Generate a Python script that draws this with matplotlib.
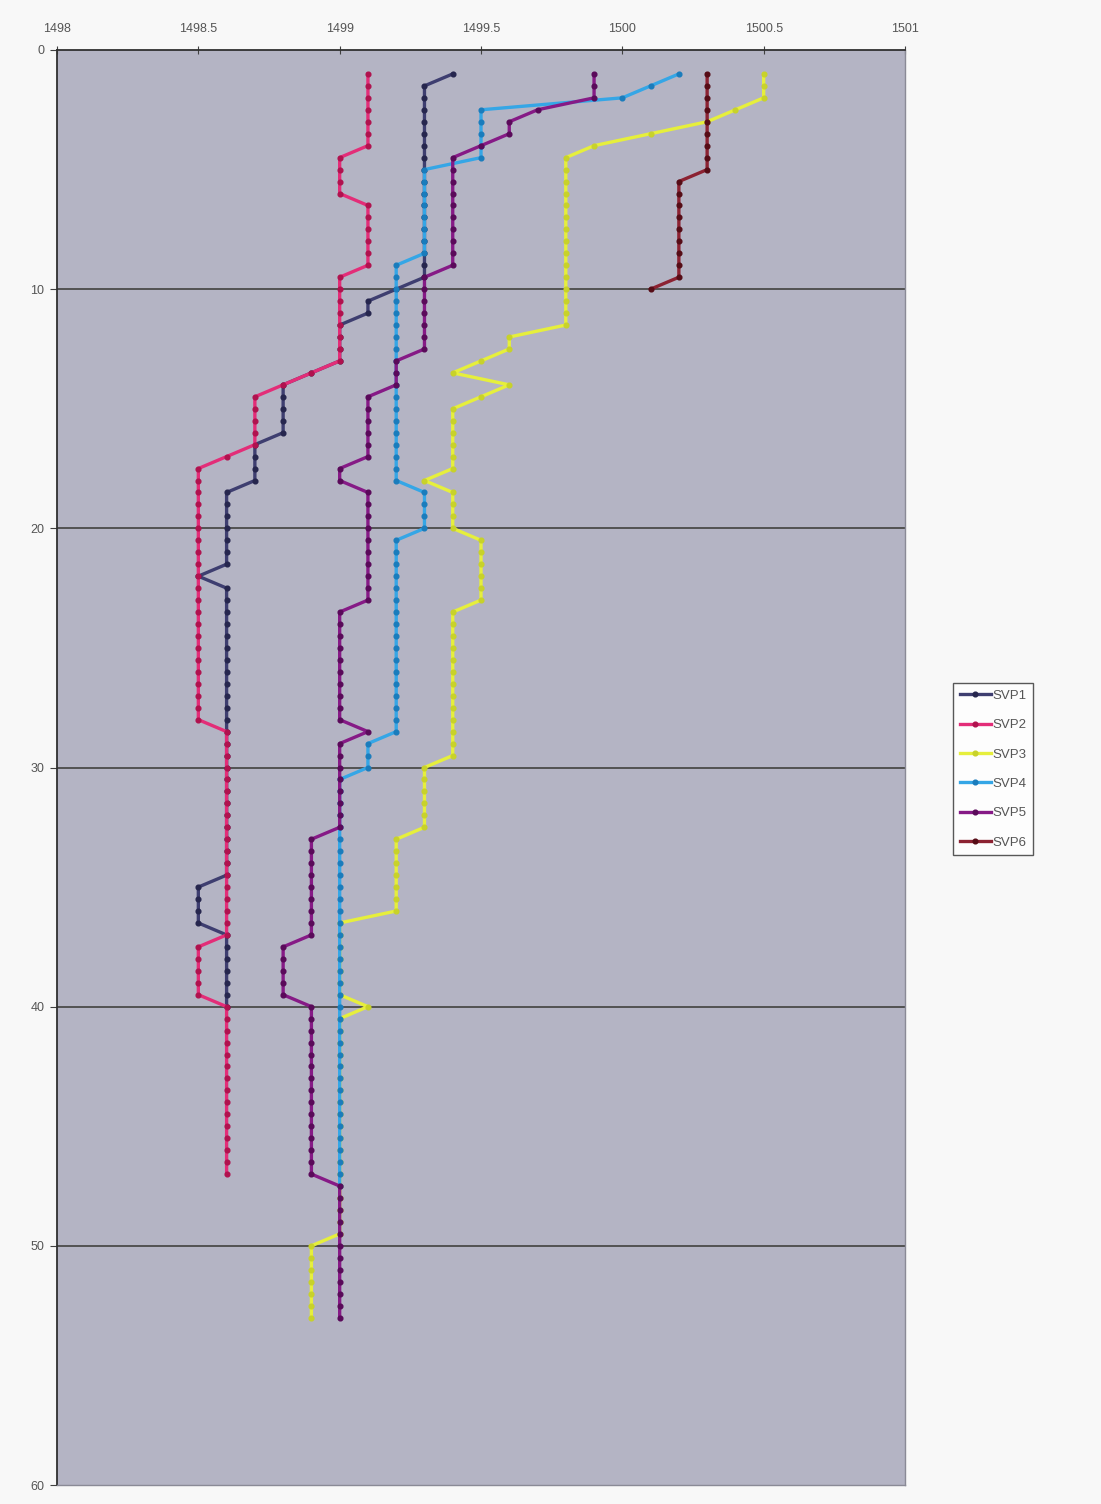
import numpy as np
import matplotlib
matplotlib.use("Agg")
import matplotlib.pyplot as plt

plt.rcParams['font.family'] = ['Liberation Sans Narrow', 'Liberation Sans', 'DejaVu Sans']

# sound velocity profiles, one reading every 0.5 m starting at 1 m depth
# stored as (value, number of consecutive readings at that value)
step = 0.5
start_depth = 1.0

svp1_vals = [1499.4, 1499.3, 1499.2, 1499.1, 1499.0, 1498.9, 1498.8, 1498.7, 1498.6, 1498.5, 1498.6, 1498.5, 1498.6]
svp1_runs = [1, 17, 1, 2, 4, 1, 5, 4, 7, 1, 25, 4, 7]

svp2_vals = [1499.1, 1499.0, 1499.1, 1499.0, 1498.9, 1498.8, 1498.7, 1498.6, 1498.5, 1498.6, 1498.5, 1498.6]
svp2_runs = [7, 4, 6, 8, 1, 1, 5, 1, 22, 18, 5, 15]

svp3_vals = [1500.5, 1500.4, 1500.3, 1500.1, 1499.9, 1499.8, 1499.6, 1499.5, 1499.4, 1499.6, 1499.5,
             1499.4, 1499.3, 1499.4, 1499.5, 1499.4, 1499.3, 1499.2, 1499.0, 1499.1, 1499.0, 1498.9]
svp3_runs = [3, 1, 1, 1, 1, 15, 2, 1, 1, 1, 1,
             6, 1, 4, 6, 13, 6, 7, 7, 1, 19, 7]

svp4_vals = [1500.2, 1500.1, 1500.0, 1499.5, 1499.3, 1499.2, 1499.3, 1499.2, 1499.1, 1499.0]
svp4_runs = [1, 1, 1, 5, 8, 19, 4, 17, 3, 35]

svp5_vals = [1499.9, 1499.7, 1499.6, 1499.5, 1499.4, 1499.3, 1499.2, 1499.1, 1499.0, 1499.1,
             1499.0, 1499.1, 1499.0, 1498.9, 1498.8, 1498.9, 1499.0]
svp5_runs = [3, 1, 2, 1, 10, 7, 3, 6, 2, 10,
             10, 1, 8, 9, 5, 15, 12]

svp6_vals = [1500.3, 1500.2, 1500.1]
svp6_runs = [9, 9, 1]

names = ['SVP1', 'SVP2', 'SVP3', 'SVP4', 'SVP5', 'SVP6']
series = [(svp1_vals, svp1_runs), (svp2_vals, svp2_runs), (svp3_vals, svp3_runs),
          (svp4_vals, svp4_runs), (svp5_vals, svp5_runs), (svp6_vals, svp6_runs)]
line_colors = ['#3e3e70', '#e32d78', '#e6ef3c', '#35a6e6', '#861a86', '#8c2232']
mark_colors = ['#26264e', '#b0124e', '#c8d22a', '#1a7cbc', '#5a0a5a', '#560c16']

fig = plt.figure(figsize=(11.01, 15.04), dpi=100)
fig.patch.set_facecolor('#f8f8f8')
ax = fig.add_axes([57/1101, 1 - 1485/1504, (905 - 57)/1101, (1485 - 50)/1504])
ax.set_facecolor('#b4b4c4')

for name, (vals, runs), lc, mc in zip(names, series, line_colors, mark_colors):
    v = np.repeat(vals, runs)
    d = start_depth + step * np.arange(len(v))
    ax.plot(v, d, color=lc, lw=2.4, marker='o', ms=3.4, mfc=mc, mec=mc, label=name, zorder=3)

ax.set_xlim(1498, 1501)
ax.set_ylim(60, 0)
ax.set_xticks(np.arange(1498, 1501.01, 0.5))
ax.set_xticklabels(['1498', '1498.5', '1499', '1499.5', '1500', '1500.5', '1501'])
ax.set_yticks(np.arange(0, 61, 10))
ax.xaxis.tick_top()
ax.tick_params(axis='x', direction='inout', length=6, color='#404040', labelsize=9,
               labelcolor='#555555', pad=8)
ax.tick_params(axis='y', direction='out', length=5, color='#404040', labelsize=9,
               labelcolor='#555555', pad=4)

for y in range(10, 60, 10):
    ax.axhline(y, color='#4a4a4a', lw=1.3, zorder=1)

for s in ['left', 'top']:
    ax.spines[s].set_color('#303030')
    ax.spines[s].set_linewidth(1.3)
for s in ['right', 'bottom']:
    ax.spines[s].set_color('#8a8a96')
    ax.spines[s].set_linewidth(1.0)

leg = fig.legend(loc='upper left', bbox_to_anchor=(953/1101, 1 - 683/1504), borderaxespad=0,
                 fontsize=9.5, handlelength=2.4, labelspacing=1.3, frameon=True,
                 fancybox=False, edgecolor='#303030', borderpad=0.5, handletextpad=0.1)
leg.get_frame().set_linewidth(1.0)
leg.get_frame().set_facecolor('#ffffff')
for t in leg.get_texts():
    t.set_color('#555555')

fig.savefig('out.png', dpi=100, facecolor=fig.get_facecolor())
